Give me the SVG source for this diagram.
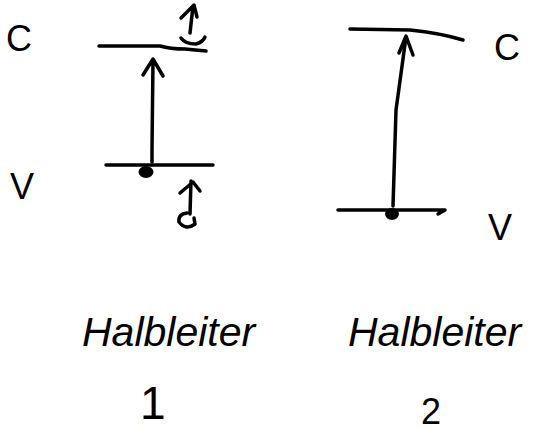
<svg xmlns="http://www.w3.org/2000/svg" width="537" height="433" viewBox="0 0 537 433">
<style>
.s{fill:none;stroke:#000;stroke-width:3.5;stroke-linecap:round;stroke-linejoin:round}
.t{font-family:"Liberation Sans",Arial,sans-serif;fill:#000}
.h{font-style:italic;font-size:41px}
.b{font-size:36px}
.n{font-size:46px}
</style>
<rect width="537" height="433" fill="#fff"/>
<g id="band-c1">
<path class="s" d="M99,46 L160,46 Q170,49 185,49 L206,51"/>
<text class="t b" x="6" y="51">C</text>
</g>
<g id="band-v1">
<path class="s" d="M106,165 L213,165"/>
<text class="t b" x="10" y="199">V</text>
<ellipse cx="146" cy="172" rx="6.5" ry="5" fill="#000" stroke="#000" stroke-width="2"/>
</g>
<g id="band-c2">
<path class="s" d="M350,29 L410,30 Q440,33 463,40"/>
<text class="t b" x="494" y="60">C</text>
</g>
<g id="band-v2">
<path class="s" d="M338,210 L445,210 L438,214"/>
<text class="t b" x="488" y="240">V</text>
<ellipse cx="392" cy="214" rx="6" ry="5" fill="#000" stroke="#000" stroke-width="2"/>
</g>
<g id="connectors">
<path class="s" d="M152,162 L152,150 L153,60 M143,75 L153,59 L163,76"/>
<path class="s" d="M393,206 L396,110 L406,37 M399,53 L406,36 L413,55"/>
<path class="s" d="M190,33 L193,6 M181,18 L194,5 L197,17 M181,38 Q185,44 196,44 Q203,42 205,37"/>
<path class="s" d="M191,181 L190,214 M180,193 L193,182 L200,191 M187,213 Q178,214 179,222 Q186,231 195,224 L194,218"/>
</g>
<g id="label1">
<text class="t h" x="82" y="346">Halbleiter</text>
<text class="t n" x="140" y="419">1</text>
</g>
<g id="label2">
<text class="t h" x="348" y="346">Halbleiter</text>
<text class="t b" x="421" y="424">2</text>
</g>
</svg>
